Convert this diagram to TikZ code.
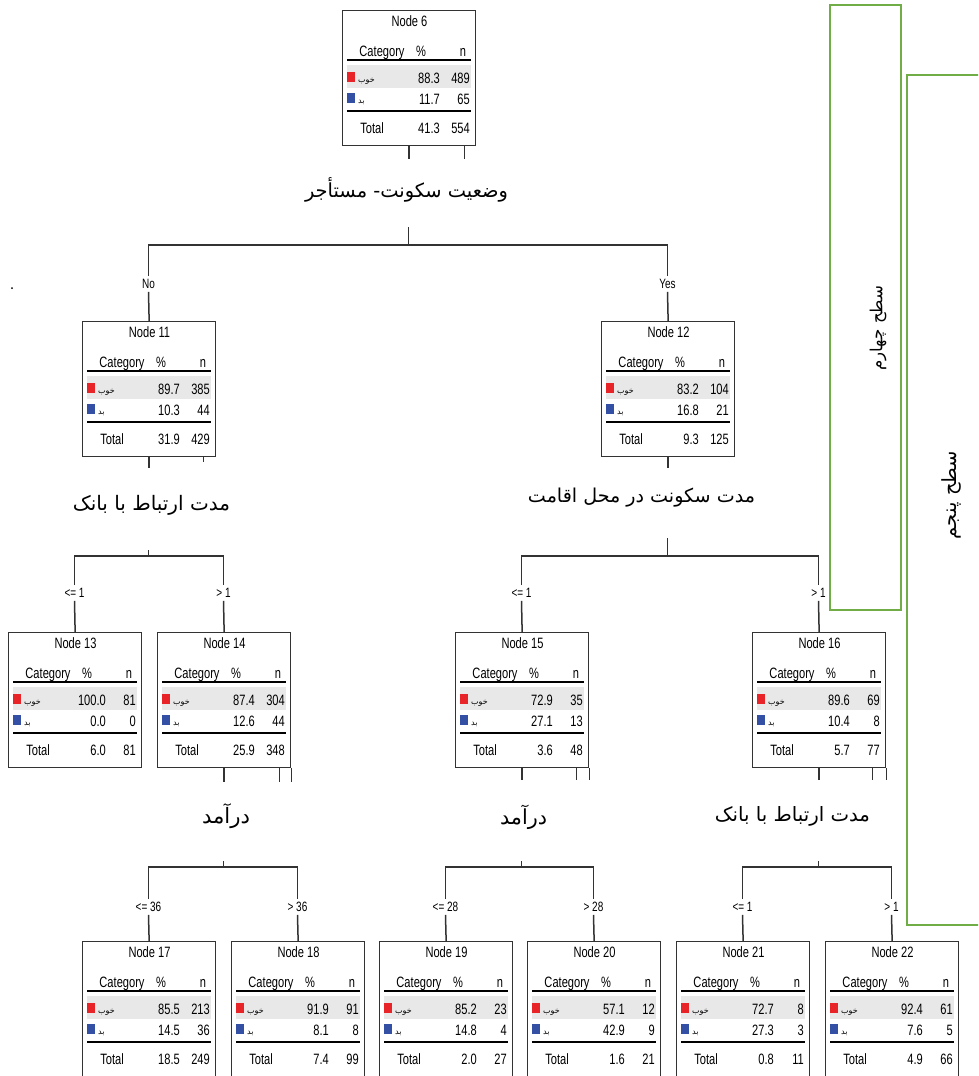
\documentclass[tikz,border=0pt]{standalone}
\usepackage{fontspec}
\usepackage{graphicx}
\TeXXeTstate=1
\newfontfamily\nf[FakeStretch=0.74]{Liberation Sans}
\newfontfamily\fa[Script=Arabic]{DejaVu Sans}
\definecolor{grn}{RGB}{112,173,71}
\definecolor{catred}{RGB}{232,36,40}
\definecolor{catblue}{RGB}{52,80,164}
\newcommand\fatext[2]{\resizebox{#1pt}{!}{\fa #2}}
\newcommand\tnode[9]{%
\begin{scope}[shift={#2}]
\fill[rowgray] (5,55) rectangle (129,78);
\node[nodebox] (#1) at (0,0) {};
\node[tx] (#1-t) at (67.5,16.5) {Node #3};
\node[tx] (#1-hc) at (40,46.5) {Category};
\node[tx] (#1-hp) at (79,46.5) {\%};
\node[tx] (#1-hn) at (121,46.5) {n};
\draw[tblrule] (5,50) -- (129,50);
\fill[catred] (5,62) rectangle (13,72);
\node[cat] (#1-c1) at (16,72) {\beginR خوب\endR};
\node[txr] (#1-v1) at (98,73.5) {#4};
\node[txr] (#1-n1) at (128,73.5) {#5};
\fill[catblue] (5,83) rectangle (13,93);
\node[cat] (#1-c2) at (16,93) {\beginR بد\endR};
\node[txr] (#1-v2) at (98,94.5) {#6};
\node[txr] (#1-n2) at (128,94.5) {#7};
\draw[tblrule] (5,101) -- (129,101);
\node[tx] (#1-tl) at (30,123.5) {Total};
\node[txr] (#1-tp) at (98,123.5) {#8};
\node[txr] (#1-tn) at (128,123.5) {#9};
\end{scope}}
\begin{document}
\begin{tikzpicture}[x=1pt,y=-1pt,
  conn/.style={line width=1.5pt, draw=black!80},
  nodebox/.style={draw=black!80, line width=1.3pt, minimum width=133pt, minimum height=135pt, inner sep=0pt, anchor=north west},
  tx/.style={font=\nf\fontsize{15}{15}\selectfont, inner sep=0pt, anchor=base},
  txr/.style={tx, anchor=base east},
  cat/.style={font=\fa\fontsize{8}{8}\selectfont, inner sep=0pt, anchor=base west},
  tblrule/.style={line width=2pt, draw=black},
  rowgray/.style={fill=black!9},
  br/.style={font=\nf\fontsize{13.5}{13.5}\selectfont, inner sep=3pt},
  lab/.style={inner sep=0pt},
  grbox/.style={draw=grn, line width=2.5pt}]
\useasboundingbox (0,0) rectangle (978,1076);
\clip (0,0) rectangle (978,1076);

\tnode{n6}{(342,10)}{6}{88.3}{489}{11.7}{65}{41.3}{554}
\tnode{n11}{(82,321)}{11}{89.7}{385}{10.3}{44}{31.9}{429}
\tnode{n12}{(601,321)}{12}{83.2}{104}{16.8}{21}{9.3}{125}
\tnode{n13}{(8,632)}{13}{100.0}{81}{0.0}{0}{6.0}{81}
\tnode{n14}{(157,632)}{14}{87.4}{304}{12.6}{44}{25.9}{348}
\tnode{n15}{(455,632)}{15}{72.9}{35}{27.1}{13}{3.6}{48}
\tnode{n16}{(752,632)}{16}{89.6}{69}{10.4}{8}{5.7}{77}
\tnode{n17}{(82,941)}{17}{85.5}{213}{14.5}{36}{18.5}{249}
\tnode{n18}{(231,941)}{18}{91.9}{91}{8.1}{8}{7.4}{99}
\tnode{n19}{(379,941)}{19}{85.2}{23}{14.8}{4}{2.0}{27}
\tnode{n20}{(527,941)}{20}{57.1}{12}{42.9}{9}{1.6}{21}
\tnode{n21}{(676,941)}{21}{72.7}{8}{27.3}{3}{0.8}{11}
\tnode{n22}{(825,941)}{22}{92.4}{61}{7.6}{5}{4.9}{66}

% ---- split of node 6
\draw[conn] (n6.south) -- ++(0,13);
\draw[conn] ([xshift=-12pt]n6.south east) -- ++(0,13);
\node[lab] (s6) at (406.5,190) {\fatext{203}{\beginR وضعیت سکونت- مستأجر\endR}};
\coordinate (t6) at (408.5,227);
\coordinate (h6) at (408.5,245);
\draw[conn] (t6) -- (h6);
\node[br] (b11) at (148.5,284) {No};
\node[br] (b12) at (667.5,284) {Yes};
\draw[conn] (b11.north) |- (h6) -| (b12.north);
\draw[conn] (b11.south) -- (n11.north);
\draw[conn] (b12.south) -- (n12.north);

% ---- split of node 11
\draw[conn] (n11.south) -- ++(0,11);
\draw[conn] ([xshift=-13pt]n11.south east) -- ++(0,5);
\node[lab] (s11) at (151.5,505) {\fatext{157}{\beginR مدت ارتباط با بانک\endR}};
\coordinate (t11) at (148.5,550);
\coordinate (h11) at (148.5,556);
\draw[conn] (t11) -- (h11);
\node[br] (b13) at (74.5,593) {<= 1};
\node[br] (b14) at (223.5,593) {> 1};
\draw[conn] (b13.north) |- (h11) -| (b14.north);
\draw[conn] (b13.south) -- (n13.north);
\draw[conn] (b14.south) -- (n14.north);

% ---- split of node 12
\draw[conn] (n12.south) -- ++(0,11);
\node[lab] (s12) at (641.5,498) {\fatext{227}{\beginR مدت سکونت در محل اقامت\endR}};
\coordinate (t12) at (667.5,538);
\coordinate (h12) at (667.5,556);
\draw[conn] (t12) -- (h12);
\node[br] (b15) at (521.5,593) {<= 1};
\node[br] (b16) at (818.5,593) {> 1};
\draw[conn] (b15.north) |- (h12) -| (b16.north);
\draw[conn] (b15.south) -- (n15.north);
\draw[conn] (b16.south) -- (n16.north);

% ---- split of node 14
\draw[conn] (n14.south) -- ++(0,14);
\draw[conn] ([xshift=-12pt]n14.south east) -- ++(0,14);
\draw[conn] (n14.south east) -- ++(0,14);
\node[lab] (s14) at (226,816) {\fatext{48}{\beginR درآمد\endR}};
\coordinate (t14) at (223.5,861);
\coordinate (h14) at (223.5,867);
\draw[conn] (t14) -- (h14);
\node[br] (b17) at (148.5,907) {<= 36};
\node[br] (b18) at (297.5,907) {> 36};
\draw[conn] (b17.north) |- (h14) -| (b18.north);
\draw[conn] (b17.south) -- (n17.north);
\draw[conn] (b18.south) -- (n18.north);

% ---- split of node 15
\draw[conn] (n15.south) -- ++(0,12);
\draw[conn] ([xshift=-13pt]n15.south east) -- ++(0,12);
\draw[conn] (n15.south east) -- ++(0,12);
\node[lab] (s15) at (523.5,817) {\fatext{47}{\beginR درآمد\endR}};
\coordinate (t15) at (521.5,861);
\coordinate (h15) at (521.5,867);
\draw[conn] (t15) -- (h15);
\node[br] (b19) at (445.5,907) {<= 28};
\node[br] (b20) at (593.5,907) {> 28};
\draw[conn] (b19.north) |- (h15) -| (b20.north);
\draw[conn] (b19.south) -- (n19.north);
\draw[conn] (b20.south) -- (n20.north);

% ---- split of node 16
\draw[conn] (n16.south) -- ++(0,12);
\draw[conn] ([xshift=-14pt]n16.south east) -- ++(0,12);
\draw[conn] (n16.south east) -- ++(0,12);
\node[lab] (s16) at (792.5,816) {\fatext{155}{\beginR مدت ارتباط با بانک\endR}};
\coordinate (t16) at (818.5,861);
\coordinate (h16) at (818.5,867);
\draw[conn] (t16) -- (h16);
\node[br] (b21) at (742.5,907) {<= 1};
\node[br] (b22) at (891.5,907) {> 1};
\draw[conn] (b21.north) |- (h16) -| (b22.north);
\draw[conn] (b21.south) -- (n21.north);
\draw[conn] (b22.south) -- (n22.north);

% ---- level frames
\draw[grbox] (830,5) rectangle (901,610);
\draw[grbox] (907,75) rectangle (995,925);
\node[lab, rotate=90] (g4) at (878,328) {\fatext{85}{\beginR سطح چهارم\endR}};
\node[lab, rotate=90] (g5) at (951,495) {\fatext{88}{\beginR سطح پنجم\endR}};

\fill (12,288) circle (1pt);
\end{tikzpicture}
\end{document}
